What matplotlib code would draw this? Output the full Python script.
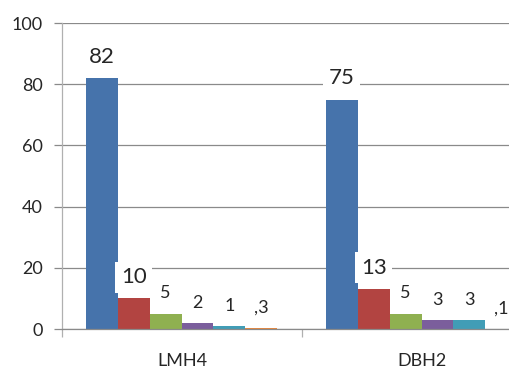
import matplotlib
matplotlib.use("Agg")
import matplotlib.pyplot as plt
import numpy as np

plt.rcParams["font.family"] = ["Lato", "DejaVu Sans"]

categories = ["LMH4", "DBH2"]
series_values = [
    [82, 75],    # series 1
    [10, 13],    # series 2
    [5, 5],      # series 3
    [2, 3],      # series 4
    [1, 3],      # series 5
    [0.3, 0.1],  # series 6
]
y_ticks = [0, 20, 40, 60, 80, 100]

colors = ["#4673AB", "#B24441", "#8FB050", "#7B5E9C", "#419DB6", "#E8873D"]
label_sizes = [16, 16, 13, 13, 13, 13]
grid_color = "#8a8a8a"


def fmt(v):
    s = f"{v:g}"
    if 0 < v < 1:
        s = s.lstrip("0").replace(".", ",")
    return s


W, H = 509, 371
fig = plt.figure(figsize=(W / 100, H / 100), dpi=100)
ax = fig.add_axes([62 / W, (371 - 329) / H, 1 - 62 / W, (329 - 23) / H])

group_offset = 0.1
bar_w = 0.1327
x0 = np.arange(len(categories))

for j, vals in enumerate(series_values):
    xs = x0 + group_offset + (j + 0.5) * bar_w
    ax.bar(xs, vals, width=bar_w, color=colors[j], zorder=2, linewidth=0)
    for x, v in zip(xs, vals):
        ax.annotate(fmt(v), (x, v), xytext=(0, 11), textcoords="offset points",
                    ha="center", va="baseline", fontsize=label_sizes[j],
                    color="#262626", zorder=5, annotation_clip=False,
                    bbox=dict(boxstyle="square,pad=0.25", fc="white", ec="none"))

ax.set_yticks(y_ticks)
ax.set_yticklabels([str(t) for t in y_ticks])
ax.yaxis.grid(True, color=grid_color, linewidth=0.9)
ax.set_axisbelow(True)

# category boundaries get tick marks, names sit in between
ax.set_xticks(x0)
ax.set_xticklabels([])
ax.set_xticks(x0 + 0.5, minor=True)
ax.set_xticklabels(categories, minor=True)

# the plot area runs past the right edge of the canvas
ax.set_xlim(0, 447 / 240)
ax.set_ylim(0, 100)

ax.tick_params(axis="y", direction="out", length=6, width=0.9, color=grid_color,
               labelsize=13, labelcolor="#262626", pad=8)
ax.tick_params(axis="x", which="major", direction="out", length=6, width=0.9,
               color="#b0b0b0")
ax.tick_params(axis="x", which="minor", length=0, labelsize=13,
               labelcolor="#262626", pad=17)

for side in ["top", "right"]:
    ax.spines[side].set_visible(False)
ax.spines["left"].set_color("#b0b0b0")
ax.spines["bottom"].set_color(grid_color)
ax.spines["left"].set_linewidth(0.9)
ax.spines["bottom"].set_linewidth(0.9)

fig.savefig("out.png", dpi=100)
